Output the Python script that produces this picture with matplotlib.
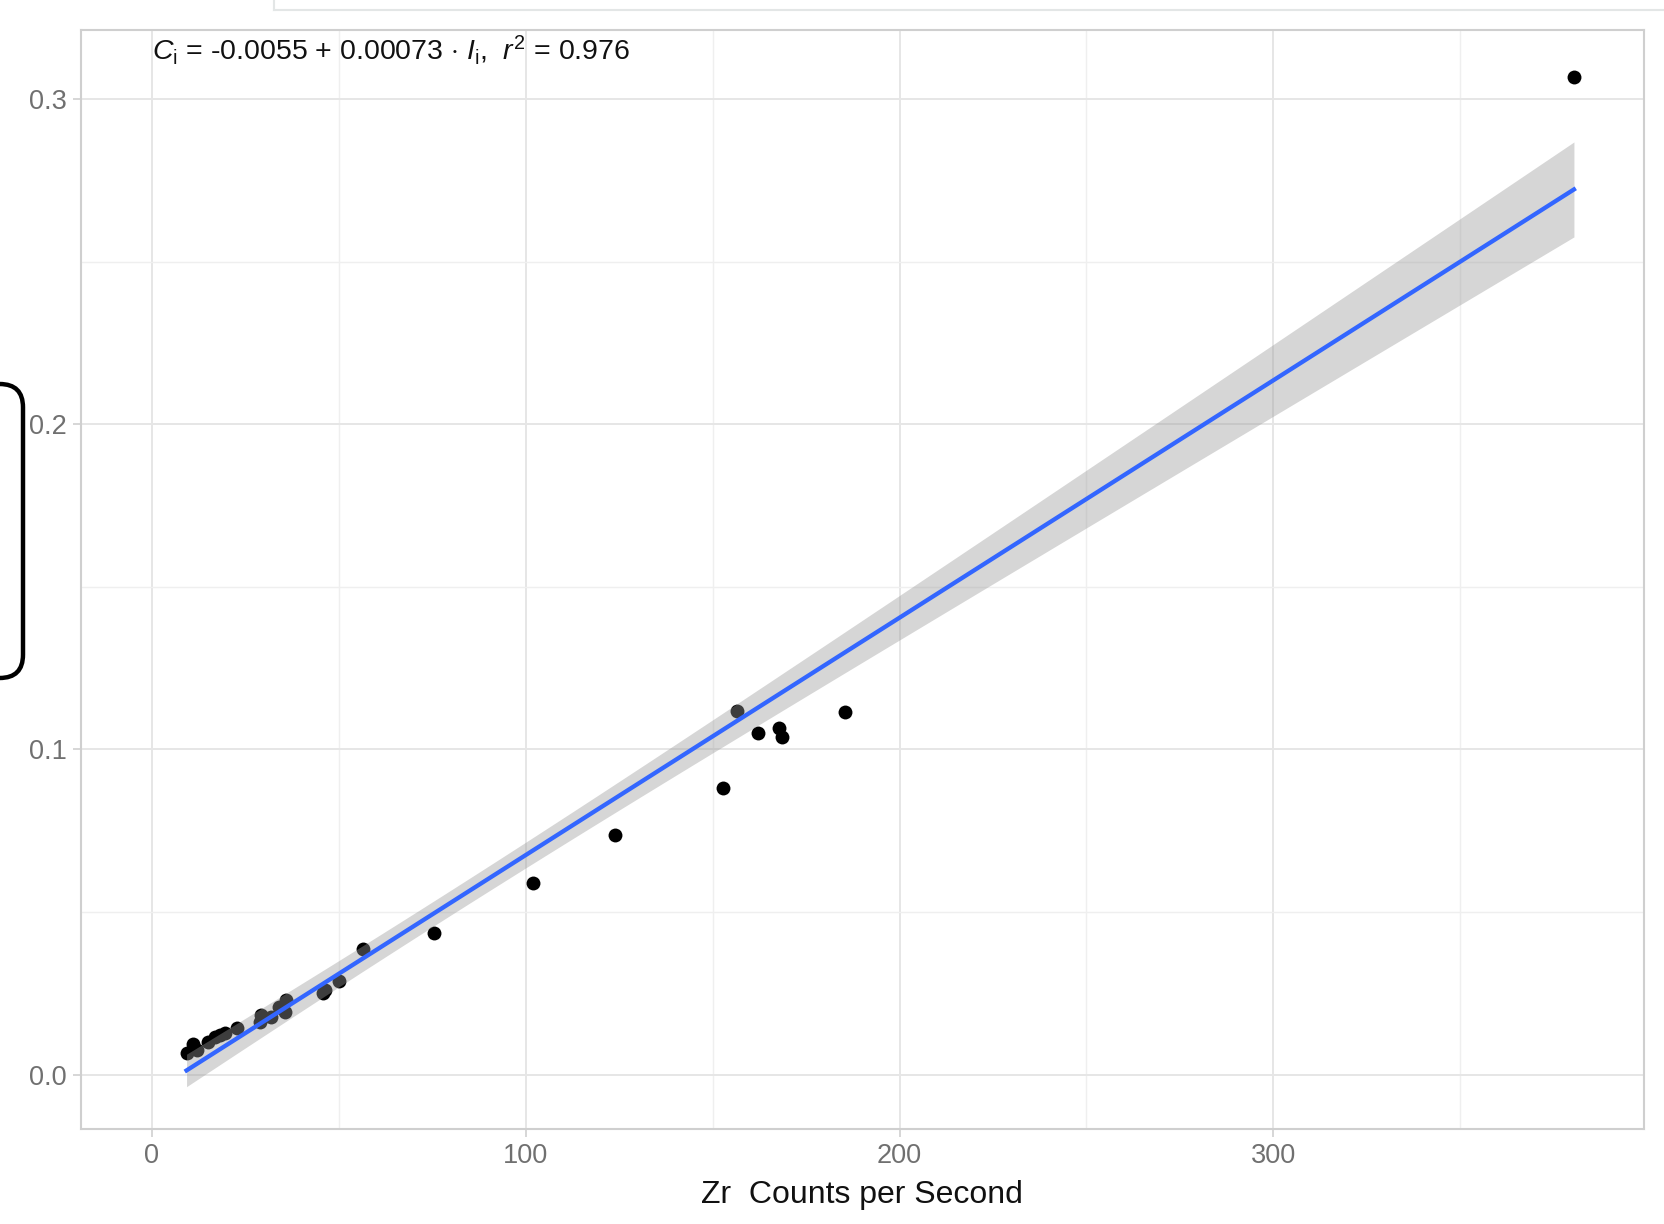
import matplotlib
matplotlib.use("Agg")
import matplotlib.pyplot as plt
from matplotlib.patches import FancyBboxPatch
from matplotlib.lines import Line2D
import numpy as np

plt.rcParams["font.family"] = ["Liberation Sans", "DejaVu Sans"]
plt.rcParams["mathtext.fontset"] = "custom"
plt.rcParams["mathtext.rm"] = "Liberation Sans"
plt.rcParams["mathtext.it"] = "Liberation Sans:italic"

# Zr counts per second vs. concentration
zr_cps = [9.3, 10.9, 12.0, 15.1, 16.9, 18.2, 19.5, 22.7, 29.3, 28.9, 32.0,
          35.8, 35.6, 34.1, 45.8, 46.3, 50.1, 56.5, 75.5, 102.0, 123.8,
          152.7, 156.6, 162.1, 167.8, 168.7, 185.4, 380.4]
zr_conc = [0.0065, 0.0094, 0.0076, 0.0101, 0.0117, 0.0122, 0.0129, 0.0142,
           0.0183, 0.0163, 0.0178, 0.0229, 0.0193, 0.0209, 0.0250, 0.0260,
           0.0289, 0.0385, 0.0434, 0.0588, 0.0738, 0.0880, 0.1119, 0.1051,
           0.1065, 0.1039, 0.1115, 0.3069]

intercept = -0.0055
slope = 0.00073
r_squared = 0.976
t_975 = 2.056  # two-sided 95% t quantile, n - 2 dof

x = np.array(zr_cps)
y = np.array(zr_conc)

# fitted line with 95% confidence ribbon; residual variance from r^2
xs = np.linspace(x.min(), x.max(), 200)
fit = intercept + slope * xs
n = len(x)
sst = np.sum((y - y.mean()) ** 2)
s = np.sqrt((1 - r_squared) * sst / (n - 2))
sxx = np.sum((x - x.mean()) ** 2)
half = t_975 * s * np.sqrt(1.0 / n + (xs - x.mean()) ** 2 / sxx)

fig = plt.figure(figsize=(16.65, 12.24), dpi=100)
ax = fig.add_axes([0.0485, 0.0778, 0.9388, 0.8979])

ax.scatter(x, y, s=100, color="black", zorder=2, linewidths=0)
ax.fill_between(xs, fit - half, fit + half, color="#999999", alpha=0.4,
                linewidth=0, zorder=3)
ax.plot(xs, fit, color="#3366FF", linewidth=3.1, zorder=4)

ax.set_xlim(-19, 399.1)
ax.set_ylim(-0.01665, 0.3213)
ax.set_xticks([0, 100, 200, 300])
ax.set_yticks([0.0, 0.1, 0.2, 0.3])
ax.set_xticks([50, 150, 250, 350], minor=True)
ax.set_yticks([0.05, 0.15, 0.25], minor=True)
ax.set_yticklabels(["0.0", "0.1", "0.2", "0.3"])

ax.grid(True, which="major", color="#e6e6e6", linewidth=1.4)
ax.grid(True, which="minor", color="#efefef", linewidth=1.0)
ax.set_axisbelow(True)
for sp in ax.spines.values():
    sp.set_color("#cfcfcf")
    sp.set_linewidth(1.5)

ax.tick_params(axis="both", which="major", colors="#cfcfcf", length=6,
               width=1.2, labelcolor="#707070", labelsize=19.5, pad=4)
ax.tick_params(axis="both", which="minor", length=0)

ax.set_xlabel("Zr  Counts per Second", fontsize=23, color="#111111",
              labelpad=8)

ax.text(0.0456, 0.997,
        r"$C_\mathrm{i}$ = -0.0055 + 0.00073 $\cdot$ $I_\mathrm{i}$,  "
        r"$r^2$ = 0.976",
        transform=ax.transAxes, ha="left", va="top", fontsize=20.5,
        color="#111111")

# window chrome around the plot
fig.add_artist(Line2D([274 / 1665, 274 / 1665], [1.0, 1 - 10 / 1224],
                      transform=fig.transFigure, color="#e3e6e6", lw=1.5))
fig.add_artist(Line2D([274 / 1665, 1.0], [1 - 10 / 1224, 1 - 10 / 1224],
                      transform=fig.transFigure, color="#e3e6e6", lw=1.5))
fig.add_artist(FancyBboxPatch((-60 / 1665, 1 - 678 / 1224), 83 / 1665,
                              294 / 1224,
                              boxstyle="round,pad=0,rounding_size=0.014",
                              transform=fig.transFigure, facecolor="none",
                              edgecolor="black", linewidth=3.2,
                              mutation_aspect=1665 / 1224))

fig.savefig("out.png", dpi=100)
plt.close(fig)
